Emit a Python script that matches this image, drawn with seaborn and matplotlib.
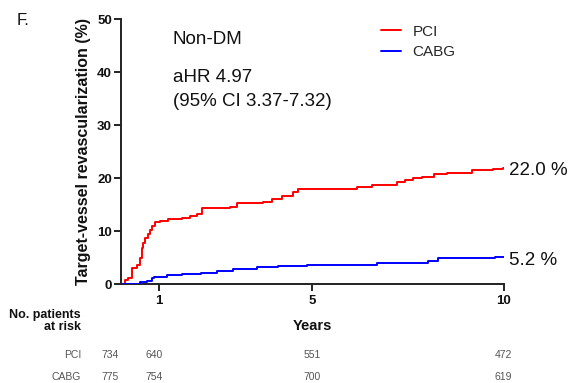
import numpy as np
import pandas as pd
import seaborn as sns
import matplotlib
matplotlib.use("Agg")
import matplotlib.pyplot as plt
from matplotlib.lines import Line2D
from matplotlib.transforms import blended_transform_factory

# ---------------- data ----------------
pci_years = [0, 0.1, 0.19, 0.3, 0.41, 0.5, 0.54, 0.58, 0.63, 0.7, 0.76, 0.82, 0.89,
             1.02, 1.24, 1.59, 1.8, 1.98, 2.11, 2.85, 3.02, 3.72, 3.94, 4.2, 4.5,
             4.64, 5.33, 6.16, 6.55, 7.21, 7.42, 7.64, 7.86, 8.17, 8.52, 9.17,
             9.73, 9.98, 10.0]
pci_tvr = [0, 0.8, 1.1, 3.0, 3.7, 4.9, 6.8, 7.8, 8.7, 9.5, 10.3, 11.0, 11.7,
           12.0, 12.3, 12.5, 12.8, 13.2, 14.4, 14.6, 15.4, 15.6, 16.0, 16.6, 17.4,
           17.9, 18.0, 18.4, 18.8, 19.3, 19.7, 20.1, 20.3, 20.7, 20.9, 21.5,
           21.7, 22.0, 22.0]
cabg_years = [0, 0.5, 0.68, 0.8, 0.85, 1.2, 1.6, 2.1, 2.5, 2.93, 3.55, 4.1, 4.86,
              6.68, 8.03, 8.3, 9.78, 10.0]
cabg_tvr = [0, 0.5, 0.7, 1.1, 1.4, 1.7, 2.0, 2.2, 2.6, 2.85, 3.2, 3.5, 3.7,
            4.0, 4.3, 4.9, 5.2, 5.2]

groups = ["PCI", "CABG"]
group_colors = ["#ff0000", "#0000ff"]
end_labels = ["22.0 %", "5.2 %"]
x_ticks = [1, 5, 10]
y_ticks = [0, 10, 20, 30, 40, 50]
risk_pci = ["734", "640", "551", "472"]
risk_cabg = ["775", "754", "700", "619"]

# ---------------- style ----------------
sns.set_theme(style="ticks")
plt.rcParams["font.family"] = ["Liberation Sans", "DejaVu Sans"]

W, H = 578, 383
fig = plt.figure(figsize=(W / 100, H / 100), dpi=100)
fig.patch.set_facecolor("white")

def fx(px):
    return px / W

def fy(py):
    return 1 - py / H

ax = fig.add_axes([fx(121), fy(284.3), (503.5 - 121) / W, (284.3 - 19) / H])
ax.set_facecolor("white")

df = pd.concat([
    pd.DataFrame({"Years": pci_years, "TVR": pci_tvr, "Group": "PCI"}),
    pd.DataFrame({"Years": cabg_years, "TVR": cabg_tvr, "Group": "CABG"}),
])
for g, c in zip(groups, group_colors):
    sns.lineplot(data=df[df["Group"] == g], x="Years", y="TVR", color=c,
                 drawstyle="steps-post", linewidth=1.4, ax=ax, legend=False,
                 estimator=None, zorder=3)

ax.set_xlim(0, 10)
ax.set_ylim(0, 50)
ax.set_xticks(x_ticks)
ax.set_yticks(y_ticks)
ax.set_xticklabels([str(t) for t in x_ticks])
ax.set_yticklabels([str(t) for t in y_ticks])
for lab in ax.get_xticklabels() + ax.get_yticklabels():
    lab.set_fontweight("bold")
    lab.set_color("#111111")
ax.tick_params(axis="both", direction="out", length=5, width=1.4,
               labelsize=9.5, color="#222222")
ax.tick_params(axis="y", pad=1.5)
ax.tick_params(axis="x", pad=3)
for s in ["top", "right"]:
    ax.spines[s].set_visible(False)
for s in ["left", "bottom"]:
    ax.spines[s].set_linewidth(1.4)
    ax.spines[s].set_color("#222222")

ax.set_xlabel("Years", fontsize=10.5, fontweight="bold", color="#111111")
ax.xaxis.set_label_coords(0.5, (284.3 - 330) / 265.3)
ax.xaxis.label.set_va("baseline")
ax.set_ylabel("Target-vessel revascularization (%)", fontsize=11.5,
              fontweight="bold", color="#111111")
ax.yaxis.set_label_coords((91 - 121) / 382.5, 0.5)

# legend
handles = [Line2D([], [], color=c, lw=1.4) for c in group_colors]
ax.legend(handles, groups, loc="upper left",
          bbox_to_anchor=((381 - 121) / 382.5, (284.3 - 24.5) / 265.3),
          frameon=False, fontsize=11, handlelength=1.3, handletextpad=0.75,
          labelspacing=0.45, borderpad=0, borderaxespad=0)

# annotations
fig.text(fx(17), fy(25), "F.", fontsize=12, color="#111111", va="baseline")
fig.text(fx(173), fy(43.5), "Non-DM", fontsize=13.5, color="#111111", va="baseline")
fig.text(fx(173), fy(82.5), "aHR 4.97", fontsize=13.5, color="#111111", va="baseline")
fig.text(fx(173), fy(106), "(95% CI 3.37-7.32)", fontsize=13.5, color="#111111",
         va="baseline")
fig.text(fx(509), fy(175), end_labels[0], fontsize=13.5, color="#111111", va="baseline")
fig.text(fx(509), fy(265), end_labels[1], fontsize=13.5, color="#111111", va="baseline")

# risk table
fig.text(fx(81), fy(314.7), "No. patients", fontsize=9, fontweight="bold",
         color="#111111", ha="right", va="center")
fig.text(fx(81), fy(327.3), "at risk", fontsize=9, fontweight="bold",
         color="#111111", ha="right", va="center")
fig.text(fx(81), fy(354.7), "PCI", fontsize=7.5, color="#555555", ha="right", va="center")
fig.text(fx(81), fy(377.3), "CABG", fontsize=7.5, color="#555555", ha="right", va="center")
trans = blended_transform_factory(ax.transData, fig.transFigure)
risk_x = [-0.29, 0.86, 5, 10]
for xv, a, b in zip(risk_x, risk_pci, risk_cabg):
    ax.text(xv, fy(354.7), a, transform=trans, fontsize=7.5, color="#555555",
            ha="center", va="center", clip_on=False)
    ax.text(xv, fy(377.3), b, transform=trans, fontsize=7.5, color="#555555",
            ha="center", va="center", clip_on=False)

fig.savefig("out.png", dpi=100, facecolor="white")
